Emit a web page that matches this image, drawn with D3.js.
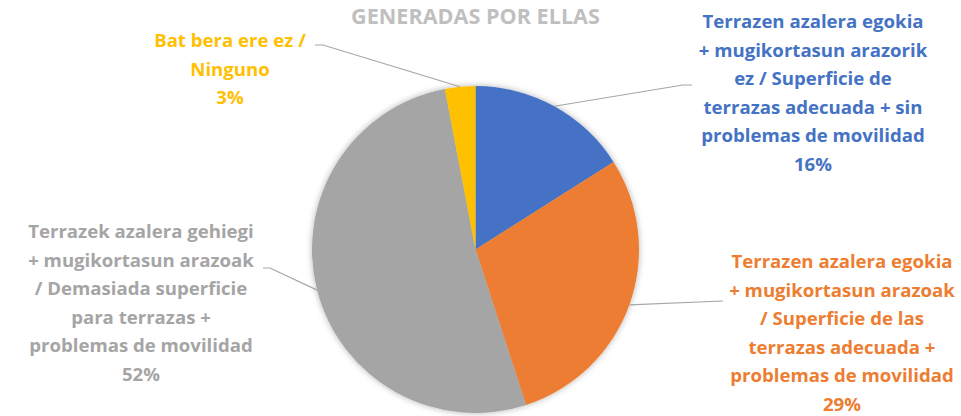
<!DOCTYPE html>
<html>
<head>
<meta charset="utf-8">
<script src="https://cdn.jsdelivr.net/npm/d3@7"></script>
<style>
  body { margin: 0; background: #fff; }
  text { font-family: "Open Sans", Lato, sans-serif; font-weight: bold; }
</style>
</head>
<body>
<div id="chart"></div>
<script>
// data
const categories = [
  "Terrazen azalera egokia + mugikortasun arazorik ez / Superficie de terrazas adecuada + sin problemas de movilidad",
  "Terrazen azalera egokia + mugikortasun arazoak / Superficie de las terrazas adecuada + problemas de movilidad",
  "Terrazek azalera gehiegi + mugikortasun arazoak / Demasiada superficie para terrazas + problemas de movilidad",
  "Bat bera ere ez / Ninguno"
];
const values = [16, 29, 52, 3];
const labelLines = [
  ["Terrazen azalera egokia", "+ mugikortasun arazorik", "ez / Superficie de", "terrazas adecuada + sin", "problemas de movilidad"],
  ["Terrazen azalera egokia", "+ mugikortasun arazoak", "/ Superficie de las", "terrazas adecuada +", "problemas de movilidad"],
  ["Terrazek azalera gehiegi", "+ mugikortasun arazoak", "/ Demasiada superficie", "para terrazas +", "problemas de movilidad"],
  ["Bat bera ere ez /", "Ninguno"]
];
const title = "GENERADAS POR ELLAS";
const colors = ["#4472C4", "#ED7D31", "#A5A5A5", "#FFC000"];

// layout
const width = 961, height = 416;
const cx = 475.5, cy = 249.5, r = 163.5;
const lineH = 28.6;
// label block: center x, first baseline, leader end point, elbow x
const labelPos = [
  { x: 813, y: 28, ex: 692, ey: 85, bx: 683 },
  { x: 842, y: 268, ex: 723, ey: 301, bx: null },
  { x: 141, y: 238, ex: 263, ey: 268, bx: 270 },
  { x: 230, y: 47, ex: 315, ey: 45, bx: 323 }
];

const svg = d3.select("#chart").append("svg")
  .attr("width", width).attr("height", height);

const defs = svg.append("defs");
const f = defs.append("filter").attr("id", "shadow")
  .attr("x", "-20%").attr("y", "-20%").attr("width", "140%").attr("height", "140%");
f.append("feDropShadow").attr("dx", 0).attr("dy", 0)
  .attr("stdDeviation", 3).attr("flood-color", "#000").attr("flood-opacity", 0.3);

svg.append("text")
  .attr("x", cx).attr("y", 24)
  .attr("text-anchor", "middle")
  .attr("fill", "#BFBFBF")
  .style("font-size", "21.6px")
  .text(title);

const pie = d3.pie().sort(null).value(d => d);
const arcs = pie(values);
const arc = d3.arc().innerRadius(0).outerRadius(r);

const g = svg.append("g").attr("transform", `translate(${cx},${cy})`);
g.append("g").attr("filter", "url(#shadow)")
  .selectAll("path")
  .data(arcs)
  .enter().append("path")
  .attr("d", arc)
  .attr("fill", (d, i) => colors[i]);

// leader lines
svg.append("g").selectAll("path")
  .data(arcs)
  .enter().append("path")
  .attr("fill", "none")
  .attr("stroke", "#A6A6A6")
  .attr("stroke-width", 1.2)
  .attr("d", (d, i) => {
    const a = (d.startAngle + d.endAngle) / 2;
    const sx = cx + r * Math.sin(a), sy = cy - r * Math.cos(a);
    const p = labelPos[i];
    const pts = [[sx, sy]];
    if (p.bx !== null) pts.push([p.bx, p.ey]);
    pts.push([p.ex, p.ey]);
    return d3.line()(pts);
  });

// labels
arcs.forEach((d, i) => {
  const p = labelPos[i];
  const lines = labelLines[i].concat([values[i] + "%"]);
  const t = svg.append("text")
    .attr("text-anchor", "middle")
    .attr("fill", colors[i])
    .style("font-size", "18.6px");
  lines.forEach((l, j) => {
    t.append("tspan").attr("x", p.x).attr("y", p.y + j * lineH).text(l);
  });
});
</script>
</body>
</html>
